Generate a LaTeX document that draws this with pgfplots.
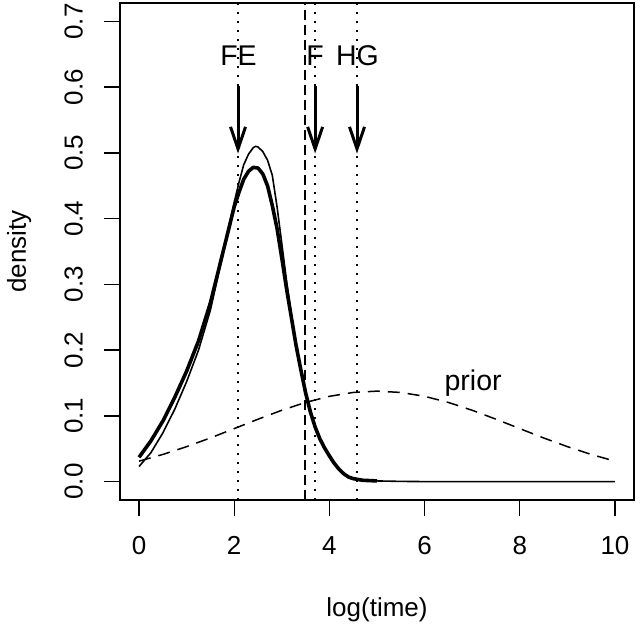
\documentclass[border=0pt]{standalone}
\usepackage{fontspec}
\setmainfont{Liberation Sans}
\usepackage{pgfplots}
\usepackage{pgfplotstable}
\pgfplotsset{compat=1.18}
\usetikzlibrary{arrows.meta}

\pgfplotstableread{
x y
0 0.037
0.25 0.062
0.5 0.092
0.75 0.128
1.0 0.168
1.25 0.214
1.5 0.272
1.75 0.345
2.0 0.418
2.1 0.440
2.2 0.460
2.3 0.472
2.4 0.478
2.5 0.477
2.6 0.468
2.7 0.450
2.8 0.420
2.9 0.385
3.0 0.340
3.1 0.293
3.2 0.250
3.3 0.207
3.4 0.170
3.5 0.135
3.6 0.106
3.7 0.083
3.8 0.065
3.9 0.051
4.0 0.039
4.1 0.028
4.2 0.019
4.3 0.012
4.4 0.007
4.5 0.0045
4.7 0.002
5.0 0.001
}\thick

\pgfplotstableread{
x y
0 0.023
0.25 0.044
0.5 0.074
0.75 0.110
1.0 0.152
1.25 0.200
1.5 0.261
1.75 0.342
2.0 0.425
2.1 0.455
2.2 0.482
2.3 0.498
2.4 0.508
2.45 0.510
2.5 0.509
2.6 0.502
2.7 0.489
2.8 0.466
2.9 0.418
3.0 0.362
3.1 0.305
3.2 0.254
3.3 0.208
3.4 0.170
3.5 0.135
3.6 0.106
3.7 0.083
3.8 0.065
3.9 0.051
4.0 0.039
4.1 0.028
4.2 0.019
4.3 0.012
4.4 0.007
4.5 0.004
4.7 0.002
5.0 0.001
5.5 0.0003
6 0
10 0
}\thin

\pgfplotstableread{
x y
0 0.0311
0.5 0.0413
1 0.0532
1.5 0.0664
2 0.0806
2.5 0.0949
3 0.1085
3.5 0.1204
4 0.1297
4.5 0.1356
5 0.1376
5.5 0.1356
6 0.1297
6.5 0.1204
7 0.1085
7.5 0.0949
8 0.0806
8.5 0.0664
9 0.0532
9.5 0.0413
10 0.0311
}\prior

\begin{document}
\fontsize{26bp}{31bp}\selectfont
\begin{tikzpicture}
\begin{axis}[
  scale only axis, width=514bp, height=497bp,
  xmin=-0.4, xmax=10.4, ymin=-0.028, ymax=0.728,
  xtick={0,2,4,6,8,10},
  ytick={0,0.1,0.2,0.3,0.4,0.5,0.6,0.7},
  tick align=outside, xtick pos=left, ytick pos=left,
  major tick length=16bp,
  every tick/.style={black, line width=1.3bp},
  axis line style={line width=1.3bp},
  /pgf/number format/assume math mode=true,
  xticklabel shift=20bp,
  yticklabel shift=21bp,
  xticklabel style={anchor=north, inner sep=0pt},
  yticklabel style={rotate=90, anchor=south, inner sep=0pt,
    /pgf/number format/.cd, fixed, fixed zerofill, precision=1},
  xlabel={log(time)},
  xlabel style={at={(axis description cs:0.5,-0.2334)}, anchor=base, inner sep=0pt},
  ylabel={density},
  ylabel style={at={(axis description cs:-0.1829,0.5)}, anchor=base, inner sep=0pt},
  clip=true,
]
% vertical reference lines
\addplot[black, line width=1.6bp, dash pattern=on 1.6bp off 7.4bp] coordinates {(2.08,-0.028) (2.08,0.728)};
\addplot[black, line width=1.6bp, dash pattern=on 1.6bp off 7.4bp] coordinates {(3.70,-0.028) (3.70,0.728)};
\addplot[black, line width=1.6bp, dash pattern=on 1.6bp off 7.4bp] coordinates {(4.58,-0.028) (4.58,0.728)};
\addplot[black, line width=1.5bp, dash pattern=on 10bp off 5bp] coordinates {(3.49,-0.028) (3.49,0.728)};
% prior
\addplot[black, line width=1.5bp, dash pattern=on 12bp off 8bp] table {\prior};
% curves
\addplot[black, line width=1.6bp] table {\thin};
\addplot[black, line width=3.6bp, line join=round] table {\thick};
% arrows
\addplot[black, line width=3bp, -{Straight Barb[length=22bp,width=15bp]}] coordinates {(2.08,0.602) (2.08,0.499)};
\addplot[black, line width=3bp, -{Straight Barb[length=22bp,width=15bp]}] coordinates {(3.70,0.602) (3.70,0.499)};
\addplot[black, line width=3bp, -{Straight Barb[length=22bp,width=15bp]}] coordinates {(4.58,0.602) (4.58,0.499)};
% labels
\node[font=\fontsize{28.5bp}{34bp}\selectfont, anchor=base, inner sep=0pt] at (axis cs:2.09,0.633) {FE};
\node[font=\fontsize{28.5bp}{34bp}\selectfont, anchor=base, inner sep=0pt] at (axis cs:3.70,0.633) {F};
\node[font=\fontsize{28.5bp}{34bp}\selectfont, anchor=base, inner sep=0pt] at (axis cs:4.59,0.633) {HG};
\node[font=\fontsize{28.5bp}{34bp}\selectfont, anchor=base, inner sep=0pt] at (axis cs:7.02,0.139) {prior};
\end{axis}
\pgfresetboundingbox
\useasboundingbox ([shift={(-120bp,-126bp)}]current axis.south west) rectangle ([shift={(10bp,3bp)}]current axis.north east);
\end{tikzpicture}
\end{document}
